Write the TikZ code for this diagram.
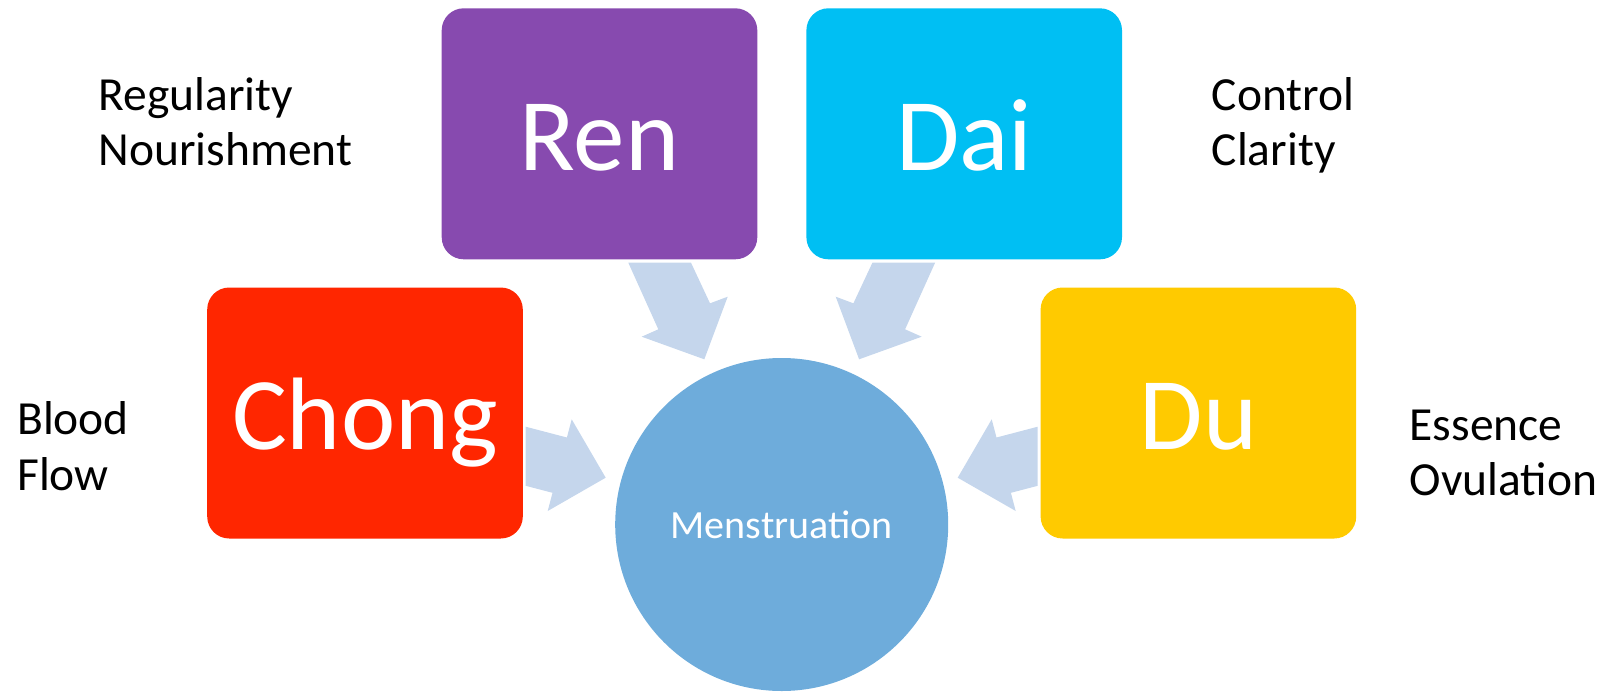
\documentclass[tikz,border=0pt]{standalone}
\usepackage{fontspec}
\setmainfont{Carlito}
\definecolor{renc}{RGB}{135,74,175}
\definecolor{daic}{RGB}{0,191,243}
\definecolor{chongc}{RGB}{255,38,0}
\definecolor{duc}{RGB}{255,202,0}
\definecolor{circc}{RGB}{110,172,219}
\definecolor{arrc}{RGB}{197,214,236}
\begin{document}
\begin{tikzpicture}[x=1pt,y=-1pt,
  box/.style={rectangle, rounded corners=22pt, minimum width=315.6pt, minimum height=251pt,
    inner sep=0pt, text=white, font=\fontsize{103}{103}\selectfont, text height=73pt, text depth=0pt},
  side/.style={anchor=base west, inner sep=0pt, font=\fontsize{47.5}{55}\selectfont, text=black},
  blockarrow/.style={fill=arrc}]
\useasboundingbox (0,0) rectangle (1606,691);
% arrows
\fill[blockarrow] (628.3,262.7) -- (691,262.7) -- (710,303.3) -- (727.7,296.7) -- (704.3,359.3) -- (641.7,336.7) -- (658.3,329.3) -- cycle;
\fill[blockarrow] (935.1,262.7) -- (872.4,262.7) -- (853.4,303.3) -- (835.7,296.7) -- (859.1,359.3) -- (921.7,336.7) -- (905.1,329.3) -- cycle;
\fill[blockarrow] (525.7,426.7) -- (566.9,437.5) -- (571.7,419.3) -- (605.7,477.7) -- (547.7,511) -- (552.5,492.8) -- (525.7,485.8) -- cycle;
\fill[blockarrow] (1037.7,426.7) -- (996.5,437.5) -- (991.7,419.3) -- (957.7,477.7) -- (1015.7,511) -- (1010.9,492.8) -- (1037.7,485.8) -- cycle;
% boxes
\node[box, fill=renc] (ren) at (599.5,133.8) {Ren};
\node[box, fill=daic] (dai) at (964.2,133.8) {Dai};
\node[box, fill=chongc] (chong) at (365,413) {Chong};
\node[box, fill=duc] (du) at (1198.4,413) {Du};
% circle
\node[circle, fill=circc, minimum size=333pt, inner sep=0pt] (men) at (781.7,524.5) {};
\node[anchor=base, inner sep=0pt, text=white, font=\fontsize{40}{40}\selectfont] (mentext) at (781.7,538) {Menstruation};
% side labels
\node[side] (reg) at (98.5,110) {Regularity};
\node[side] (nou) at (98.5,165) {Nourishment};
\node[side] (con) at (1211.5,110) {Control};
\node[side] (cla) at (1211.5,165) {Clarity};
\node[side] (blo) at (17,434) {Blood};
\node[side] (flo) at (17,490) {Flow};
\node[side] (ess) at (1409.5,440) {Essence};
\node[side] (ovu) at (1409.5,495) {Ovulation};
\end{tikzpicture}
\end{document}
